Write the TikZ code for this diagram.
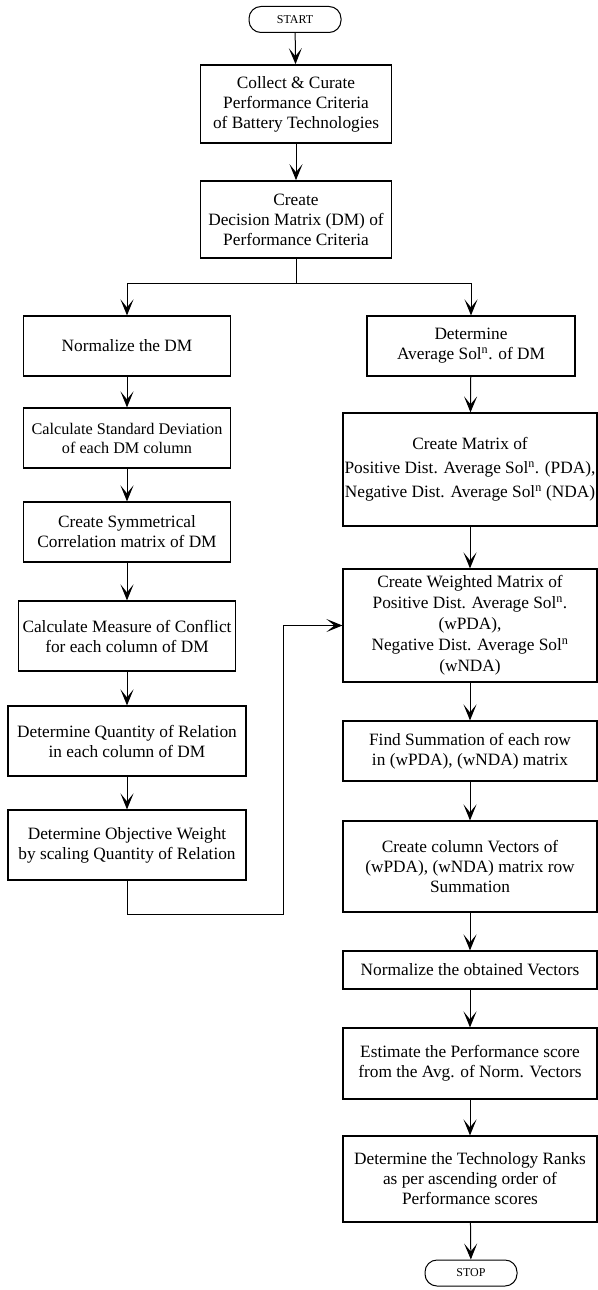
\documentclass[tikz,border=0pt]{standalone}
\usepackage{fontspec}
\setmainfont{Liberation Serif}
\usepackage{tikz}
\usetikzlibrary{arrows.meta,calc,positioning}

\begin{document}
\begin{tikzpicture}[
  x=1pt, y=-1pt,
  term/.style={draw, line width=1pt, rounded corners=12pt, minimum width=92pt, minimum height=26pt, inner sep=0pt, font=\fontsize{12}{14}\selectfont},
  box/.style={draw, line width=1.2pt, align=center, inner sep=0pt, font=\fontsize{17.3}{20}\selectfont},
  bigbox/.style={box, line width=1.7pt},
  arr/.style={-{Stealth[length=16pt,width=13pt,inset=8pt]}, line width=1pt}
]
\useasboundingbox (0,0) rectangle (597,1290);
\node[term] (start) at (295,19.5) {START};
\node[bigbox, minimum width=191pt, minimum height=78pt] (collect) at (296,104) {Collect \& Curate\\Performance Criteria\\of Battery Technologies};
\node[bigbox, minimum width=191pt, minimum height=77pt] (dm) at (296,219.5) {Create\\Decision Matrix (DM) of\\Performance Criteria};
\coordinate (split) at (296,283);

\node[box, minimum width=207pt, minimum height=60pt] (norm) at (127,346) {Normalize the DM};
\node[box, minimum width=207pt, minimum height=60pt, font=\fontsize{16.2}{19}\selectfont] (sdev) at (127,438) {Calculate Standard Deviation\\of each DM column};
\node[box, minimum width=207pt, minimum height=60pt] (corr) at (127,532) {Create Symmetrical\\Correlation matrix of DM};
\node[box, minimum width=217pt, minimum height=70pt] (conflict) at (127,636) {Calculate Measure of Conflict\\for each column of DM};
\node[box, minimum width=238pt, minimum height=70pt] (relation) at (127,741) {Determine Quantity of Relation\\in each column of DM};
\node[box, minimum width=238pt, minimum height=70pt] (weight) at (127,845) {Determine Objective Weight\\by scaling Quantity of Relation};
\coordinate (loop) at (283,914);

\node[box, minimum width=208pt, minimum height=60pt] (avg) at (471,346) {Determine\\Average Sol\textsuperscript{n}. of DM};
\node[box, minimum width=254pt, minimum height=113pt, font=\fontsize{17.3}{24}\selectfont] (dist) at (470,469.5) {Create Matrix of\\Positive Dist. Average Sol\textsuperscript{n}. (PDA),\\Negative Dist. Average Sol\textsuperscript{n} (NDA)};
\node[box, minimum width=254pt, minimum height=113pt, font=\fontsize{17.3}{21}\selectfont] (wdist) at (470,625.5) {Create Weighted Matrix of\\Positive Dist. Average Sol\textsuperscript{n}.\\(wPDA),\\Negative Dist. Average Sol\textsuperscript{n}\\(wNDA)};
\node[box, minimum width=254pt, minimum height=60pt] (rowsum) at (470,751) {Find Summation of each row\\in (wPDA), (wNDA) matrix};
\node[box, minimum width=254pt, minimum height=91pt] (colvec) at (470,866.5) {Create column Vectors of\\(wPDA), (wNDA) matrix row\\Summation};
\node[box, minimum width=254pt, minimum height=38pt] (normvec) at (470,970) {Normalize the obtained Vectors};
\node[box, minimum width=254pt, minimum height=71pt] (score) at (470,1063.5) {Estimate the Performance score\\from the Avg. of Norm. Vectors};
\node[box, minimum width=254pt, minimum height=86pt] (rank) at (470,1179) {Determine the Technology Ranks\\as per ascending order of\\Performance scores};
\node[term] (stop) at (471,1273) {STOP};

\draw[arr] (start) -- (collect);
\draw[arr] (collect) -- (dm);
\draw[line width=1pt] (dm) -- (split);
\draw[arr] (split) -| (norm);
\draw[arr] (split) -| (avg);
\draw[arr] (norm) -- (sdev);
\draw[arr] (sdev) -- (corr);
\draw[arr] (corr) -- (conflict);
\draw[arr] (conflict) -- (relation);
\draw[arr] (relation) -- (weight);
\draw[arr] (weight.south) |- (loop) |- (wdist.west);
\draw[arr] (avg) -- (dist);
\draw[arr] (dist) -- (wdist);
\draw[arr] (wdist) -- (rowsum);
\draw[arr] (rowsum) -- (colvec);
\draw[arr] (colvec) -- (normvec);
\draw[arr] (normvec) -- (score);
\draw[arr] (score) -- (rank);
\draw[arr] (rank) -- (stop);
\end{tikzpicture}
\end{document}
